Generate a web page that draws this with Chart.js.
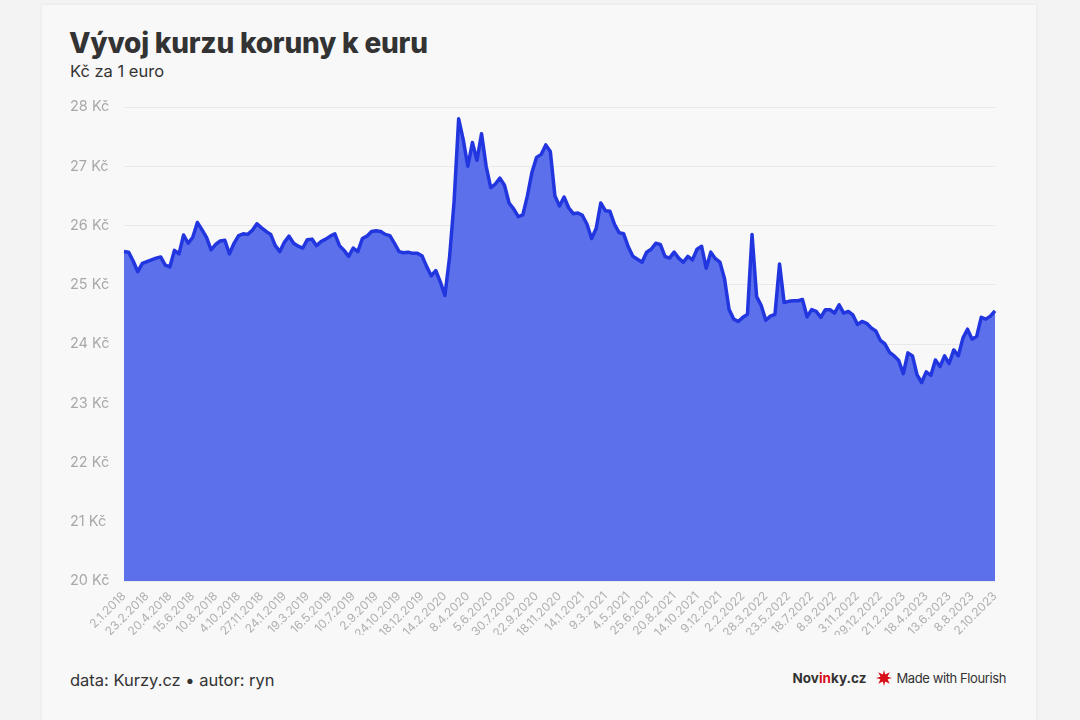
<!DOCTYPE html>
<html lang="cs">
<head>
<meta charset="utf-8">
<title>Vývoj kurzu koruny k euru</title>
<script src="https://cdn.jsdelivr.net/npm/chart.js@4.4.1/dist/chart.umd.min.js"></script>
<style>
  html, body { margin: 0; padding: 0; }
  body { width: 1080px; height: 720px; background: #f3f3f3; font-family: Inter, "Noto Sans", sans-serif; overflow: hidden; position: relative; }
  .card { position: absolute; left: 42px; top: 5px; width: 994px; height: 720px; background: #f8f8f8; box-shadow: 0 0 3px rgba(0,0,0,0.07); }
  h1 { position: absolute; left: 69px; top: 26px; margin: 0; font-size: 28px; font-weight: 800; color: #333; letter-spacing: -0.2px; }
  .sub { position: absolute; left: 70px; top: 61px; font-size: 16.5px; color: #333; }
  .wrap { position: absolute; left: 70px; top: 95px; width: 940px; height: 540px; }
  .foot { position: absolute; left: 70px; top: 670px; font-size: 16.5px; color: #333; }
  .brand { position: absolute; right: 74px; top: 670px; font-size: 13px; color: #333; display: flex; align-items: center; }
  .brand .nov { font-weight: 700; font-size: 13.5px; margin-right: 10px; }
  .brand .nov span { color: #d8101a; }
  .brand svg { margin-right: 4px; }
  .brand .mw { letter-spacing: -0.4px; }
</style>
</head>
<body>
<div class="card"></div>
<h1>Vývoj kurzu koruny k euru</h1>
<div class="sub">Kč za 1 euro</div>
<div class="wrap"><canvas id="kurz"></canvas></div>
<div class="foot">data: Kurzy.cz • autor: ryn</div>
<div class="brand">
  <div class="nov">Nov<span>in</span>ky.cz</div>
  <svg width="16" height="16" viewBox="-8 -8 16 16">
    <polygon fill="#d8101a" points="0,-8 1.2,-3.5 5.7,-5.7 3.5,-1.2 8,0 3.5,1.2 5.7,5.7 1.2,3.5 0,8 -1.2,3.5 -5.7,5.7 -3.5,1.2 -8,0 -3.5,-1.2 -5.7,-5.7 -1.2,-3.5"/>
    <circle r="3.6" fill="#d8101a"/>
  </svg>
  <div class="mw">Made with Flourish</div>
</div>
<script>
// popisky osy x (každý 5. bod)
const tickLabels = ['2.1.2018', '23.2.2018', '20.4.2018', '15.6.2018', '10.8.2018', '4.10.2018', '27.11.2018',
    '24.1.2019', '19.3.2019', '16.5.2019', '10.7.2019', '2.9.2019', '24.10.2019', '18.12.2019',
    '14.2.2020', '8.4.2020', '5.6.2020', '30.7.2020', '22.9.2020', '18.11.2020',
    '14.1.2021', '9.3.2021', '4.5.2021', '25.6.2021', '20.8.2021', '14.10.2021', '9.12.2021',
    '2.2.2022', '28.3.2022', '23.5.2022', '18.7.2022', '8.9.2022', '3.11.2022', '29.12.2022',
    '21.2.2023', '18.4.2023', '13.6.2023', '8.8.2023', '2.10.2023'];
const pointsPerTick = 5;

// kurz EUR/CZK
const rates = [
    25.56, 25.55, 25.40, 25.22, 25.36, 25.39, 25.42, 25.45, 25.47, 25.33,
    25.30, 25.58, 25.52, 25.84, 25.70, 25.80, 26.05, 25.93, 25.80, 25.59,
    25.68, 25.74, 25.75, 25.52, 25.70, 25.83, 25.86, 25.85, 25.92, 26.03,
    25.96, 25.90, 25.85, 25.66, 25.56, 25.72, 25.82, 25.70, 25.65, 25.62,
    25.76, 25.77, 25.66, 25.73, 25.77, 25.82, 25.86, 25.66, 25.58, 25.48,
    25.62, 25.56, 25.78, 25.82, 25.90, 25.91, 25.90, 25.85, 25.83, 25.70,
    25.56, 25.54, 25.55, 25.53, 25.53, 25.49, 25.31, 25.15, 25.24, 25.05,
    24.82, 25.45, 26.40, 27.80, 27.45, 27.00, 27.40, 27.10, 27.55, 27.00,
    26.64, 26.70, 26.80, 26.68, 26.38, 26.28, 26.15, 26.18, 26.50, 26.90,
    27.15, 27.20, 27.36, 27.25, 26.50, 26.33, 26.48, 26.30, 26.20, 26.21,
    26.17, 26.02, 25.78, 25.95, 26.38, 26.25, 26.24, 26.02, 25.88, 25.86,
    25.64, 25.48, 25.43, 25.38, 25.55, 25.60, 25.70, 25.68, 25.48, 25.45,
    25.55, 25.45, 25.38, 25.48, 25.42, 25.60, 25.65, 25.28, 25.55, 25.44,
    25.38, 25.10, 24.58, 24.42, 24.38, 24.45, 24.50, 25.85, 24.80, 24.65,
    24.40, 24.47, 24.50, 25.35, 24.70, 24.72, 24.73, 24.73, 24.75, 24.46,
    24.58, 24.55, 24.45, 24.58, 24.58, 24.52, 24.66, 24.52, 24.55, 24.49,
    24.33, 24.38, 24.35, 24.27, 24.22, 24.06, 24.00, 23.86, 23.80, 23.72,
    23.50, 23.85, 23.80, 23.48, 23.35, 23.53, 23.47, 23.73, 23.62, 23.80,
    23.67, 23.90, 23.80, 24.10, 24.25, 24.08, 24.13, 24.45, 24.42, 24.47,
    24.56
];

const labels = rates.map((v, i) => i % pointsPerTick === 0 ? (tickLabels[i / pointsPerTick] || '') : '');

const ctx = document.getElementById('kurz').getContext('2d');
new Chart(ctx, {
    type: 'line',
    data: {
        labels: labels,
        datasets: [{
            label: 'EUR/CZK',
            data: rates,
            borderColor: '#2236e0',
            backgroundColor: '#5b70ea',
            borderWidth: 3.5,
            borderJoinStyle: 'round',
            pointRadius: 0,
            tension: 0,
            fill: 'start'
        }]
    },
    options: {
        responsive: true,
        maintainAspectRatio: false,
        animation: false,
        layout: { padding: { top: 12, right: 15 } },
        plugins: {
            legend: { display: false },
            tooltip: { enabled: false }
        },
        scales: {
            x: {
                grid: { display: false },
                border: { display: false },
                afterFit: s => { s.height = 54; },
                ticks: {
                    autoSkip: false,
                    minRotation: 45,
                    maxRotation: 45,
                    padding: 0,
                    color: '#b0b0b0',
                    font: { family: 'Inter', size: 12 }
                }
            },
            y: {
                min: 20,
                max: 28,
                afterFit: s => { s.width = 54; },
                grid: { color: '#e9e9e9', drawTicks: false },
                border: { display: false },
                ticks: {
                    stepSize: 1,
                    crossAlign: 'far',
                    color: '#a8a8a8',
                    font: { family: 'Inter', size: 14.5 },
                    callback: v => v + ' Kč'
                }
            }
        }
    }
});
</script>
</body>
</html>
